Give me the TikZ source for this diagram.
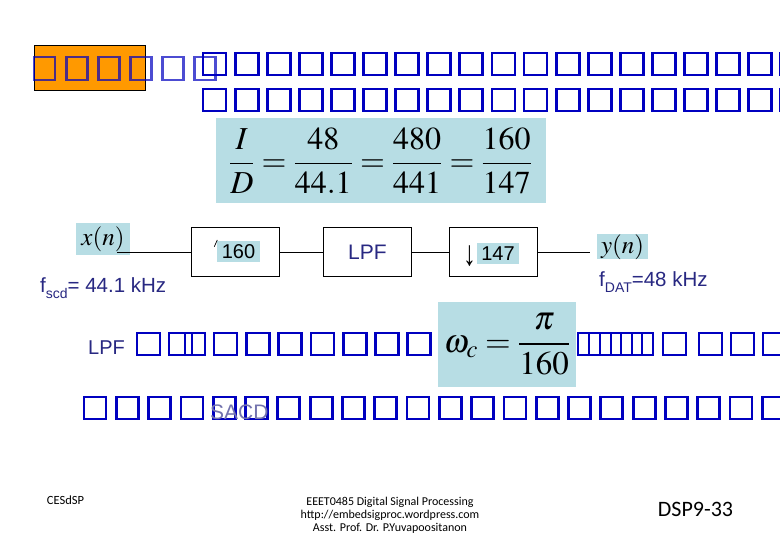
\documentclass[tikz,border=0pt]{standalone}
\usepackage{mathptmx}
\usepackage[no-math]{fontspec}
\setmainfont{Liberation Sans}
\newfontfamily\footfont{Carlito}
\usepackage{xcolor}
\definecolor{tofublue}{RGB}{0,0,192}
\definecolor{slideorange}{RGB}{255,153,0}
\definecolor{eqbg}{RGB}{183,221,228}
\definecolor{labelnavy}{RGB}{40,40,130}

\begin{document}
\begin{tikzpicture}[x=1pt, y=-1pt,
  tofu/.style={draw=tofublue, line width=2.8pt},
  blk/.style={draw, line width=0.8pt, minimum width=88pt, minimum height=49pt, inner sep=0pt},
  eq/.style={fill=eqbg, inner sep=0pt},
  lbl/.style={text=labelnavy, inner sep=0pt, anchor=base west}]
  \useasboundingbox (0,0) rectangle (780,540);
  \fill[white] (0,0) rectangle (780,540);

  \draw[fill=slideorange, line width=0.8pt] (34,45) rectangle (145,90);
  \foreach \k in {0,...,5} {
    \draw[tofu, draw opacity=0.7] ({34+32.1*\k},57) rectangle +(21,23);
  }
  \foreach \k in {0,...,18} {
    \draw[tofu] ({203+32.1*\k},53) rectangle +(23,22);
    \draw[tofu] ({203+32.1*\k},89) rectangle +(23,22);
  }

  \node[eq, minimum width=330pt, minimum height=85pt] (ratio) at (380.5,160.5)
    {\fontsize{32}{38}\selectfont $\displaystyle \frac{I}{D}=\frac{48}{44.1}=\frac{480}{441}=\frac{160}{147}$};

  \node[eq, minimum width=54pt, minimum height=32pt] (xn) at (103,239)
    {\fontsize{25}{28}\selectfont $x(n)$};
  \node[eq, minimum width=51pt, minimum height=22pt] (yn) at (622.5,247)
    {\fontsize{25}{28}\selectfont $y(n)$};

  \node[blk] (upbox) at (235.5,252) {};
  \node[blk, text=labelnavy, font=\fontsize{21}{24}\selectfont] (lpfbox) at (367.5,252) {LPF};
  \node[blk] (downbox) at (493,252) {};
  \node[eq, minimum width=43pt, minimum height=21pt, font=\fontsize{20}{22}\selectfont] (upfac) at (238.5,251.5) {160};
  \draw[line width=0.7pt] (214.3,246.7) -- (217.3,240);
  \node[inner sep=0pt] (downarr) at (470,256) {\scalebox{0.8}[1.1]{\fontsize{32}{32}\selectfont\bfseries ↓}};
  \node[eq, minimum width=42pt, minimum height=21pt, font=\fontsize{20}{22}\selectfont] (downfac) at (498,253.5) {147};

  \coordinate (xin) at (117,252);
  \coordinate (yout) at (590,252);
  \draw[line width=0.8pt] (xin) -- (upbox.west);
  \draw[line width=0.8pt] (upbox) -- (lpfbox);
  \draw[line width=0.8pt] (lpfbox) -- (downbox);
  \draw[line width=0.8pt] (downbox) -- (yout);

  \node[lbl, font=\fontsize{20.5}{22}\selectfont] (fscd) at (40,293)
    {f\raisebox{-6pt}{\fontsize{14}{14}\selectfont scd}= 44.1 kHz};
  \node[lbl, font=\fontsize{20.5}{22}\selectfont] (fdat) at (599,287)
    {f\raisebox{-6pt}{\fontsize{14}{14}\selectfont DAT}=48 kHz};

  \node[lbl, font=\fontsize{20}{24}\selectfont] (lpfnote) at (88,355) {LPF};
  \draw[tofu] (137,333) rectangle +(23,22);
  \draw[tofu] (169,333) rectangle +(36,22);
  \foreach \x in {185,192} {
    \draw[tofu] (\x,333) -- +(0,22);
  }
  \foreach \k in {0,...,6} {
    \draw[tofu] ({214+32.3*\k},333) rectangle +(23,22);
  }
  \node[eq, minimum width=138pt, minimum height=85pt] (cutoff) at (507,344.5)
    {\fontsize{33}{38}\selectfont $\displaystyle \omega_{c}=\frac{\pi}{160}$};
  \draw[tofu] (578,333) rectangle +(75,22);
  \foreach \x in {589,600,611,621,632,642} {
    \draw[tofu] (\x,333) -- +(0,22);
  }
  \foreach \x in {663,699,731,763} {
    \draw[tofu] (\x,333) rectangle +(23,22);
  }

  \foreach \k in {0,...,21} {
    \draw[tofu] ({84+32.3*\k},397) rectangle +(22,22);
  }
  \node[lbl, text=labelnavy!65, font=\fontsize{21}{24}\selectfont] (sacd) at (210,420) {SACD};

  \node[font={\footfont\fontsize{12.5}{14}\selectfont}] (site) at (65.5,500) {CESdSP};
  \node[align=center, font={\footfont\fontsize{12}{13}\selectfont}] (course) at (390,515)
    {EEET0485 Digital Signal Processing\\http://embedsigproc.wordpress.com\\Asst. Prof. Dr. P.Yuvapoositanon};
  \node[font={\footfont\fontsize{22}{24}\selectfont}] (page) at (695.5,509) {DSP9-33};
\end{tikzpicture}
\end{document}
